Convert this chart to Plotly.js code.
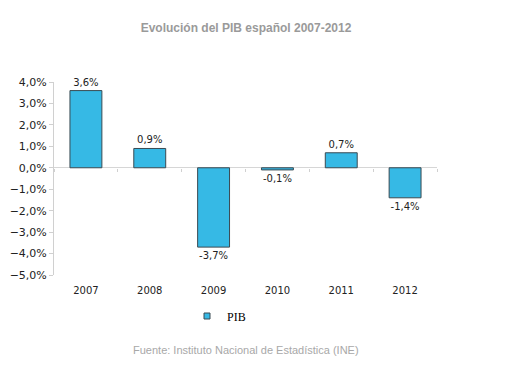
<!DOCTYPE html>
<html>
<head>
<meta charset="utf-8">
<script src="https://cdn.plot.ly/plotly-3.0.1.min.js"></script>
<style>html,body{margin:0;padding:0;background:#fff;}#chart{width:510px;height:371px;}</style>
</head>
<body>
<div id="chart"></div>
<script>
const years = ['2007', '2008', '2009', '2010', '2011', '2012'];
const pib = [3.6, 0.9, -3.7, -0.1, 0.7, -1.4];
const seriesName = 'PIB';
const titleText = 'Evolución del PIB español 2007-2012';
const sourceText = 'Fuente: Instituto Nacional de Estadística (INE)';

const barColor = '#36B9E5';
const edgeColor = '#3a4a52';
const labelFont = {family: 'DejaVu Sans, Verdana, sans-serif', size: 10, color: '#222'};

const traces = [
  {
    type: 'bar', x: years, y: pib, name: seriesName, showlegend: false,
    marker: {color: barColor, line: {color: edgeColor, width: 1}},
    texttemplate: '%{y:.1f}%', textposition: 'outside', textfont: labelFont,
    cliponaxis: false, hoverinfo: 'skip'
  },
  {
    type: 'bar', x: years, y: pib, xaxis: 'x2', showlegend: false,
    marker: {color: 'rgba(0,0,0,0)'}, hoverinfo: 'skip'
  },
  {
    type: 'scatter', mode: 'markers', x: [null], y: [null], name: seriesName,
    marker: {symbol: 'square', size: 6, color: barColor, line: {color: edgeColor, width: 1}},
    hoverinfo: 'skip'
  }
];

const layout = {
  width: 510, height: 371,
  margin: {l: 54, r: 73, t: 82, b: 96},
  paper_bgcolor: '#fff', plot_bgcolor: '#fff',
  separators: ',.',
  bargap: 0.5,
  title: {
    text: titleText, xref: 'container', yref: 'container',
    x: 246 / 510, y: 1 - 28 / 371, xanchor: 'center', yanchor: 'middle',
    font: {family: 'Liberation Sans, Arial, sans-serif', size: 12, color: '#9a9a9a', weight: 'bold'}
  },
  xaxis: {
    type: 'category', showgrid: false, showline: false, zeroline: false,
    ticks: 'outside', ticklen: 6, tickcolor: 'rgba(0,0,0,0)',
    tickfont: labelFont, fixedrange: true
  },
  xaxis2: {
    type: 'category', overlaying: 'x', anchor: 'free', position: 5 / 9, side: 'bottom',
    showgrid: false, showline: false, zeroline: false,
    ticks: 'outside', tickson: 'boundaries', ticklen: 3, tickcolor: '#d0d0d0',
    showticklabels: false
  },
  yaxis: {
    range: [-5, 4], dtick: 1, tickformat: '.1f', ticksuffix: '%',
    showgrid: false, showline: true, linecolor: '#d0d0d0', linewidth: 1,
    ticks: 'outside', ticklen: 4, tickcolor: '#d0d0d0',
    zeroline: true, zerolinecolor: '#d6d6d6', zerolinewidth: 1,
    tickfont: {family: 'DejaVu Sans, Verdana, sans-serif', size: 11, color: '#222'},
    fixedrange: true
  },
  showlegend: true,
  legend: {
    orientation: 'h', xref: 'paper', yref: 'paper',
    x: (187 - 54) / 383, y: (371 - 96 - 316) / 193, xanchor: 'left', yanchor: 'middle',
    font: {family: 'Liberation Serif, Times New Roman, serif', size: 12, color: '#000'},
    bgcolor: 'rgba(0,0,0,0)'
  },
  annotations: [{
    text: sourceText, xref: 'paper', yref: 'paper',
    x: (246 - 54) / 383, y: (371 - 96 - 350) / 193, xanchor: 'center', yanchor: 'middle',
    showarrow: false,
    font: {family: 'Liberation Sans, Arial, sans-serif', size: 11, color: '#a8a8a8'}
  }]
};

Plotly.newPlot('chart', traces, layout, {displayModeBar: false, staticPlot: true});
</script>
</body>
</html>
